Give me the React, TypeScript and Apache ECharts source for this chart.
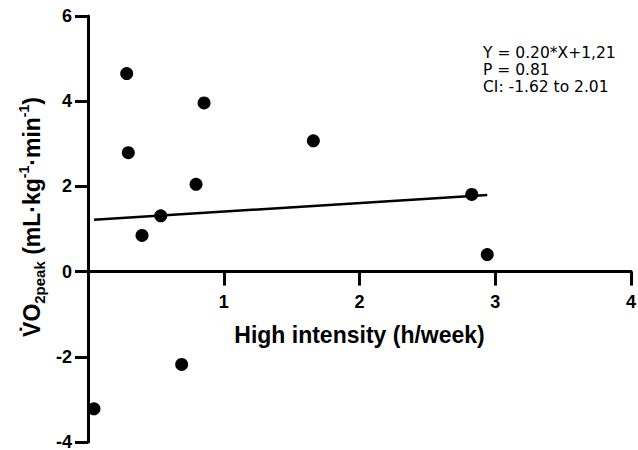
import React, { useEffect, useRef } from "react";
import * as echarts from "echarts";

const xValues = [0.044, 0.285, 0.297, 0.398, 0.536, 0.69, 0.796, 0.855, 1.66, 2.827, 2.941];
const yValues = [-3.22, 4.65, 2.79, 0.85, 1.31, -2.18, 2.05, 3.96, 3.07, 1.81, 0.4];
const slope = 0.2;
const intercept = 1.21;
const xTicks = [0, 1, 2, 3, 4];
const yTicks = [-4, -2, 0, 2, 4, 6];
const statLines = ["Y = 0.20*X+1,21", "P = 0.81", "CI: -1.62 to 2.01"];
const xTitle = "High intensity (h/week)";

export default function App() {
  const ref = useRef<HTMLDivElement>(null);
  useEffect(() => {
    document.body.style.margin = "0";
    const chart = echarts.init(ref.current!, null, { renderer: "svg" });
    const pts = xValues.map((x, i) => [x, yValues[i]]);
    const xMin = Math.min(...xValues);
    const xMax = Math.max(...xValues);
    const fit = [
      [xMin, slope * xMin + intercept],
      [xMax, slope * xMax + intercept],
    ];
    const gridTop = 16;
    const gridBottom = 8;
    const gridH = 450 - gridTop - gridBottom;
    const yMin = yTicks[0];
    const yMax = yTicks[yTicks.length - 1];
    const zeroOffset = -((0 - yMin) / (yMax - yMin)) * gridH;
    const font = "Liberation Sans, Arial, sans-serif";
    const axisFont = { fontFamily: font, fontWeight: "bold" as const, fontSize: 18, color: "#000" };
    chart.setOption({
      animation: false,
      backgroundColor: "#fff",
      grid: { left: 88, right: 7, top: gridTop, bottom: gridBottom, containLabel: false, outerBoundsMode: "none" },
      xAxis: {
        type: "value",
        position: "bottom",
        offset: zeroOffset,
        min: xTicks[0],
        max: xTicks[xTicks.length - 1],
        interval: 1,
        splitLine: { show: false },
        axisLine: { onZero: false, lineStyle: { color: "#000", width: 3 } },
        axisTick: { length: 14, lineStyle: { color: "#000", width: 3 } },
        axisLabel: { ...axisFont, margin: 21, showMinLabel: false },
        name: xTitle,
        nameLocation: "middle",
        nameGap: 52,
        nameTextStyle: { ...axisFont, fontSize: 23 },
      },
      yAxis: {
        type: "value",
        min: yMin,
        max: yMax,
        interval: 2,
        splitLine: { show: false },
        axisLine: { onZero: false, lineStyle: { color: "#000", width: 3 } },
        axisTick: { length: 13, lineStyle: { color: "#000", width: 3 } },
        axisLabel: { ...axisFont, margin: 16 },
      },
      graphic: [
        {
          type: "text",
          x: 32,
          y: 217,
          rotation: Math.PI / 2,
          style: {
            text: "{b|V\u0307O}{sub|2peak}{b| (mL·kg}{sup|-1}{b|·min}{sup|-1}{b|)}",
            textAlign: "center",
            textVerticalAlign: "middle",
            fill: "#000",
            rich: {
              b: { fontFamily: font, fontWeight: "bold", fontSize: 23, lineHeight: 30, verticalAlign: "middle" },
              sub: { fontFamily: font, fontWeight: "bold", fontSize: 15, lineHeight: 30, verticalAlign: "bottom" },
              sup: { fontFamily: font, fontWeight: "bold", fontSize: 14, lineHeight: 30, verticalAlign: "top" },
            },
          },
        },
        {
          type: "text",
          x: 483,
          y: 44.5,
          style: {
            text: statLines.join("\n"),
            fontFamily: "DejaVu Sans, Verdana, sans-serif",
            fontSize: 15.5,
            lineHeight: 17,
            fill: "#000",
            textAlign: "left",
            textVerticalAlign: "top",
          },
        },
      ],
      series: [
        {
          type: "scatter",
          data: pts,
          symbol: "circle",
          symbolSize: 13,
          itemStyle: { color: "#000", opacity: 1 },
          z: 3,
        },
        {
          type: "line",
          data: fit,
          symbol: "none",
          lineStyle: { color: "#000", width: 2.5 },
          z: 2,
        },
      ],
    });
    return () => chart.dispose();
  }, []);
  return <div ref={ref} style={{ position: "fixed", left: 0, top: 0, width: 638, height: 450 }} />;
}
